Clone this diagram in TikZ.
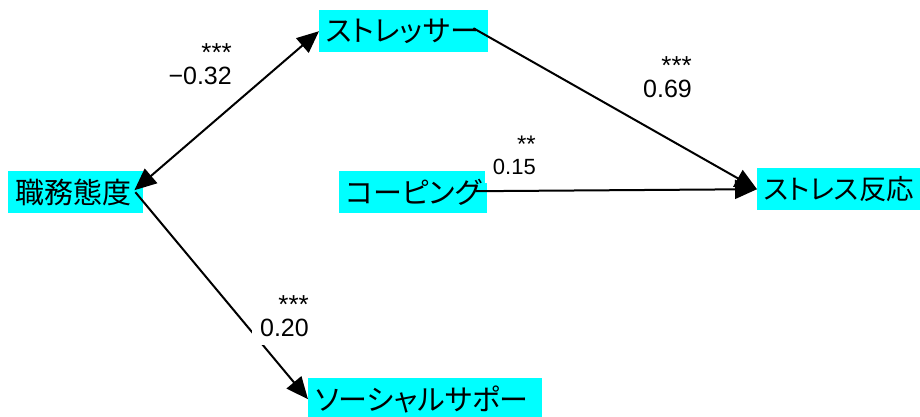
\documentclass[tikz,border=0pt]{standalone}
\usepackage{fontspec}
\setmainfont{Liberation Sans}
\newfontfamily\jp{Noto Sans CJK JP}[RawFeature=+palt]
\usetikzlibrary{arrows.meta,calc}

\definecolor{boxcyan}{RGB}{0,255,255}

\tikzset{
  var/.style={fill=boxcyan, draw=none, anchor=north west, minimum height=42pt,
    inner xsep=7pt, inner ysep=0pt, align=left,
    font=\jp\fontsize{29}{29}\selectfont},
  coef/.style={fill=white, inner sep=8pt, align=right, anchor=south east,
    font=\fontsize{25}{23}\selectfont},
  conn/.style={line width=2pt, -{Triangle[length=22pt,width=19pt]}}
}
\newcommand{\sig}[1]{{\fontsize{26}{23}\selectfont #1}}

\begin{document}
\begin{tikzpicture}[x=1pt, y=-1pt]
  \useasboundingbox (0,0) rectangle (920,417);

  % variables
  \node[var, text width=121pt] (job)  at (8,171)   {職務態度};
  \node[var, text width=155pt] (str)  at (319,10)  {ストレッサー};
  \node[var, text width=134pt] (cop)  at (339,171) {コーピング};
  \node[var, text width=149pt, font=\jp\fontsize{27.5}{27.5}\selectfont]
    (resp) at (757,168) {ストレス反応};
  \node[var, text width=220pt] (soc)  at (308,378) {ソーシャルサポー};

  % paths
  \draw[conn, {Triangle[length=22pt,width=19pt]}-{Triangle[length=22pt,width=19pt]}]
    ($(job.east)+(-9,-2)$) -- (str.west);
  \draw[conn] ($(job.east)+(-8,0)$) -- (soc.west);
  \draw[conn] ($(str.east)+(-15,-3)$) -- (resp.west);
  \draw[conn] ($(cop.east)+(-12,-1)$) -- (resp.west);

  % coefficients
  \node[coef] (c1) at (240,93)  {\sig{***}\\−0.32};
  \node[coef] (c2) at (700,106) {\sig{***}\\0.69};
  \node[coef, font=\fontsize{22}{22}\selectfont] (c3) at (544,183)
    {{\fontsize{24}{22}\selectfont **}\\0.15};
  \node[coef] (c4) at (317,345) {\sig{***}\\0.20};
\end{tikzpicture}
\end{document}
